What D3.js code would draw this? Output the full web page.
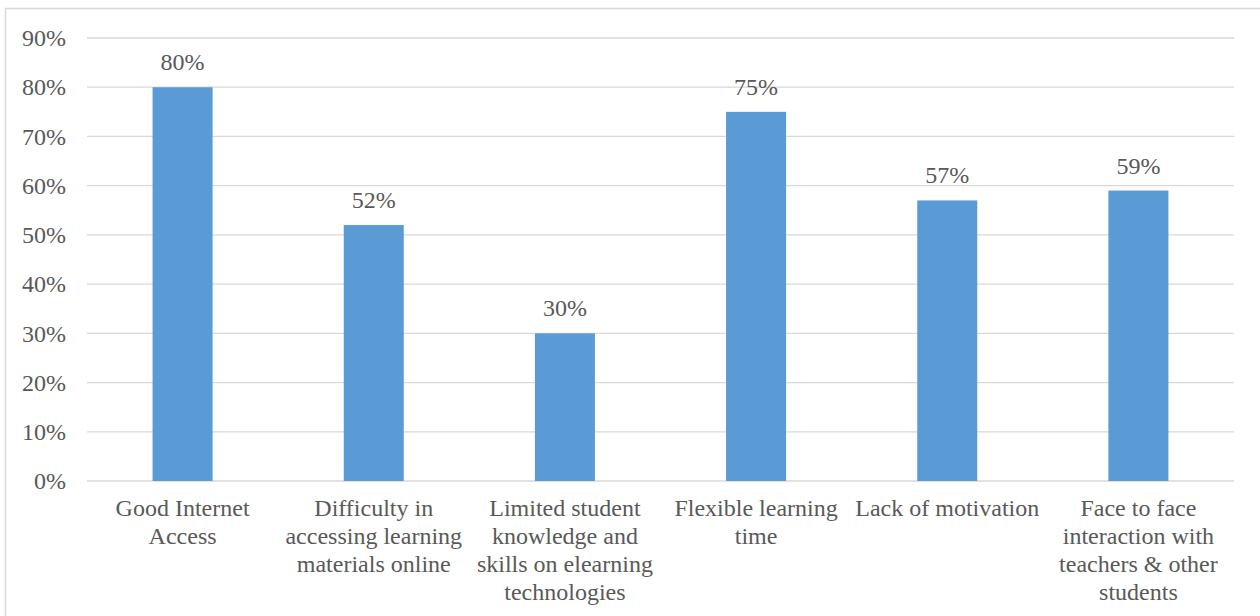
<!DOCTYPE html>
<html>
<head>
<meta charset="utf-8">
<script src="https://cdn.jsdelivr.net/npm/d3@7"></script>
<style>
  html, body { margin: 0; padding: 0; background: #fff; font-family: 'Liberation Serif', serif; }
  svg { display: block; }
</style>
</head>
<body>
<svg class="bars-figure" width="1260" height="616"></svg>
<script>
// Survey responses: share of respondents per factor
const categories = [
  ["Good Internet", "Access"],
  ["Difficulty in", "accessing learning", "materials online"],
  ["Limited student", "knowledge and", "skills on elearning", "technologies"],
  ["Flexible learning", "time"],
  ["Lack of motivation"],
  ["Face to face", "interaction with", "teachers & other", "students"]
];
const values = [80, 52, 30, 75, 57, 59];
const yTicks = [0, 10, 20, 30, 40, 50, 60, 70, 80, 90];

const TEXT_COLOR = "#595959";
const svg = d3.select("svg.bars-figure");
const W = 1260, H = 616;
const margin = { left: 87, right: 26, top: 38, bottom: 135 };
const fontSize = 24;

// serif face, size and colour for a selection of text nodes
function serif(sel) {
  sel.attr("font-family", "Liberation Serif")
    .attr("font-size", fontSize)
    .attr("fill", TEXT_COLOR);
}

// outer frame (top and left edges visible)
svg.append("rect")
  .attr("x", 5.5).attr("y", 8.5)
  .attr("width", W + 10).attr("height", H + 10)
  .attr("fill", "none").attr("stroke", "#d9d9d9").attr("stroke-width", 1.5);

const x = d3.scaleBand()
  .domain(d3.range(categories.length))
  .range([margin.left, W - margin.right])
  .paddingInner(0.686).paddingOuter(0.343);

const y = d3.scaleLinear().domain([0, 90]).range([H - margin.bottom, margin.top]);

// gridlines
svg.append("g").selectAll("line").data(yTicks).join("line")
  .attr("x1", margin.left).attr("x2", W - margin.right)
  .attr("y1", d => y(d)).attr("y2", d => y(d))
  .attr("stroke", "#d9d9d9").attr("stroke-width", 1.3);

// y axis labels
const yAxis = d3.axisLeft(y).tickValues(yTicks).tickFormat(d => d + "%").tickSize(0).tickPadding(21);
const gy = svg.append("g").attr("transform", `translate(${margin.left},0)`).call(yAxis);
gy.attr("font-family", "Liberation Serif").attr("font-size", fontSize);
gy.select(".domain").remove();
serif(gy.selectAll("text"));

// bars
svg.append("g").selectAll("rect").data(values).join("rect")
  .attr("x", (d, i) => x(i))
  .attr("width", x.bandwidth())
  .attr("y", d => y(d))
  .attr("height", d => y(0) - y(d))
  .attr("fill", "#5b9bd5");

// value labels
const valueLabels = svg.append("g").selectAll("text").data(values).join("text")
  .attr("x", (d, i) => x(i) + x.bandwidth() / 2)
  .attr("y", d => y(d) - 17)
  .attr("text-anchor", "middle")
  .text(d => d + "%");
serif(valueLabels);

// category labels, one text per line
const catGroups = svg.append("g").selectAll("g").data(categories).join("g")
  .attr("transform", (d, i) => `translate(${x(i) + x.bandwidth() / 2},${y(0) + 35})`);
const catLines = catGroups.selectAll("text").data(d => d).join("text")
  .attr("x", 0)
  .attr("y", (d, i) => i * 28)
  .attr("text-anchor", "middle")
  .text(d => d);
serif(catLines);
</script>
</body>
</html>
